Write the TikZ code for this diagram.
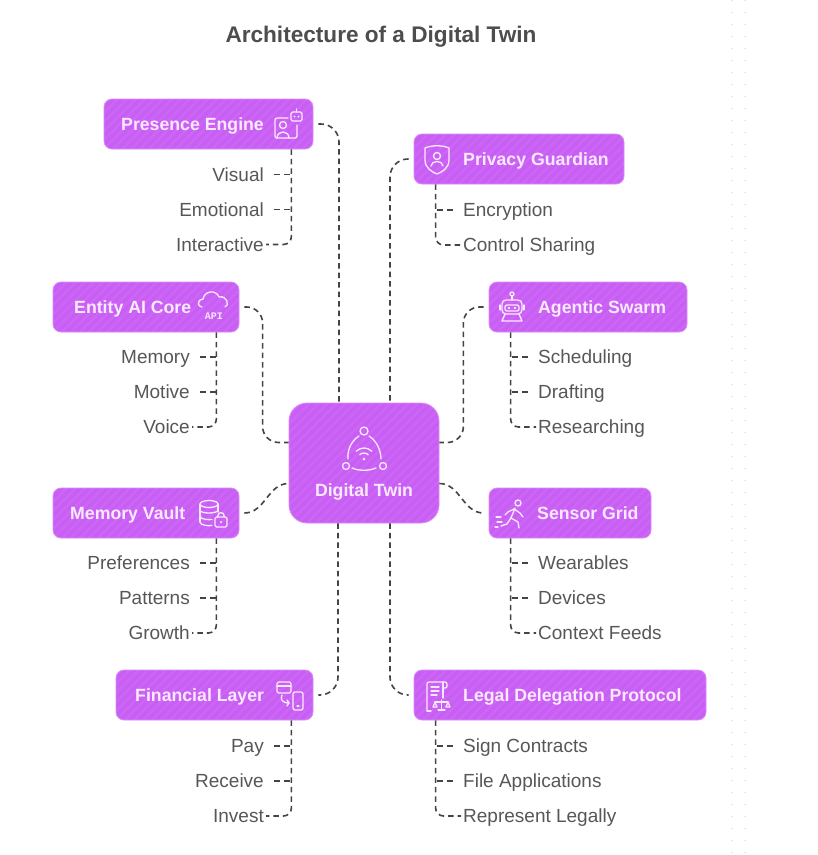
\documentclass[tikz,border=0pt]{standalone}
\usepackage{fontspec}
\setmainfont{Liberation Sans}
\newfontfamily\iconmono{Liberation Mono}
\usetikzlibrary{calc}
\definecolor{boxfill}{HTML}{C95EF5}
\definecolor{boxedge}{HTML}{D98BF8}
\definecolor{boxtext}{HTML}{FBEAFF}
\definecolor{linecol}{HTML}{444444}
\definecolor{itemcol}{HTML}{575757}
\definecolor{titlecol}{HTML}{4D4D4D}
\definecolor{gridcol}{HTML}{E6E6E6}
\tikzset{
  box/.style={draw=boxedge, line width=0.8pt, fill=boxfill, rounded corners=8pt, inner sep=0pt,
    path picture={\foreach \k in {-16,...,36}{\draw[white,opacity=0.05,line width=2.5pt] ([xshift={\k*9pt}]path picture bounding box.south west) -- ++(140pt,140pt);}}},
  lbl/.style={font=\bfseries\fontsize{17.7}{20}\selectfont, text=boxtext, inner sep=0pt, text height=12.7pt, text depth=0pt},
  itemL/.style={font=\fontsize{19}{22}\selectfont, text=itemcol, inner sep=0pt, text height=13.6pt, text depth=0pt, anchor=east},
  itemR/.style={font=\fontsize{19}{22}\selectfont, text=itemcol, inner sep=0pt, text height=13.6pt, text depth=0pt, anchor=west},
  conn/.style={draw=linecol, line width=1.6pt, dash pattern=on 5.5pt off 4pt},
  tick/.style={draw=linecol, line width=1.6pt, dash pattern=on 6pt off 4pt},
  icon/.style={color=boxtext, line width=1.3pt, line cap=round, line join=round},
}
\begin{document}
\begin{tikzpicture}[x=1pt, y=-1pt]
\useasboundingbox (0,0) rectangle (818,855);
\fill[white] (0,0) rectangle (818,855);
% faint dotted columns at right edge
\draw[gridcol, line width=1.3pt, dash pattern=on 1.3pt off 10.7pt] (732,0) -- (732,855);
\draw[gridcol, line width=1.3pt, dash pattern=on 1.3pt off 10.7pt] (745,0) -- (745,855);

% title
\node[font=\bfseries\fontsize{22.6}{26}\selectfont, text=titlecol, inner sep=0pt] (ttl) at (381,37) {Architecture of a Digital Twin};

% boxes
\node[box, minimum width=209pt, minimum height=50pt] (pe) at (208.5,124) {};
\node[box, minimum width=210pt, minimum height=50pt] (pg) at (519,159) {};
\node[box, minimum width=186pt, minimum height=50pt] (ea) at (146,307) {};
\node[box, minimum width=198pt, minimum height=50pt] (as) at (588,307) {};
\node[box, minimum width=150pt, minimum height=120pt, rounded corners=18pt] (dt) at (364,463) {};
\node[box, minimum width=186pt, minimum height=50pt] (mv) at (146,513) {};
\node[box, minimum width=162pt, minimum height=50pt] (sg) at (570,513) {};
\node[box, minimum width=197pt, minimum height=50pt] (fl) at (214.5,695) {};
\node[box, minimum width=292pt, minimum height=50pt] (ld) at (560,695) {};

% labels
\node[lbl, anchor=west] (pet) at (121,124) {Presence Engine};
\node[lbl, anchor=west] (pgt) at (463,159) {Privacy Guardian};
\node[lbl, anchor=west] (eat) at (74,307) {Entity AI Core};
\node[lbl, anchor=west] (ast) at (538,307) {Agentic Swarm};
\node[lbl] (dtt) at (364,490) {Digital Twin};
\node[lbl, anchor=west] (mvt) at (70,513) {Memory Vault};
\node[lbl, anchor=west] (sgt) at (537,513) {Sensor Grid};
\node[lbl, anchor=west] (flt) at (135,695) {Financial Layer};
\node[lbl, anchor=west] (ldt) at (463,695) {Legal Delegation Protocol};

% ---- icons ----
% Presence Engine
\begin{scope}[shift={(286,127)}, icon]
  \draw[rounded corners=2pt] (2,-9) -- (-11,-9) -- (-11,11) -- (11,11) -- (11,-2);
  \draw (-3,-2) circle[radius=3.5pt];
  \draw (-9,11) .. controls (-9,3) and (3,3) .. (3,11);
  \draw[rounded corners=1.5pt] (5,-15) rectangle (16,-6);
  \fill (8.5,-10.5) circle[radius=1pt] (12.5,-10.5) circle[radius=1pt];
  \draw (10.5,-15) -- (10.5,-18);
\end{scope}
% Privacy Guardian
\begin{scope}[shift={(437,159)}, icon]
  \draw (-12,-11) -- (-12,1) .. controls (-12,9) and (-5,13) .. (0,15) .. controls (5,13) and (12,9) .. (12,1) -- (12,-11) .. controls (5,-14) and (-5,-14) .. cycle;
  \draw (0,-3) circle[radius=3.5pt];
  \draw (-6,7) .. controls (-6,1) and (6,1) .. (6,7);
\end{scope}
% Entity AI Core
\begin{scope}[shift={(214,306)}, icon]
  \draw (-12,1) .. controls (-17,1) and (-17,-7) .. (-11,-7) .. controls (-10,-15) and (2,-17) .. (5,-9) .. controls (13,-11) and (16,0) .. (11,1);
\end{scope}
\node[font=\iconmono\bfseries\fontsize{10}{10}\selectfont, text=boxtext, inner sep=0pt] (eaapi) at (214,316) {API};
% Agentic Swarm
\begin{scope}[shift={(512,309)}, icon]
  \draw (0,-15) circle[radius=2pt];
  \draw (0,-13) -- (0,-9);
  \draw[rounded corners=4pt] (-10,-9) rectangle (10,5);
  \draw[rounded corners=2pt] (-7,-4) rectangle (7,2);
  \fill (-3,-1) circle[radius=1.3pt] (3,-1) circle[radius=1.3pt];
  \draw (-12,-4) -- (-12,1);
  \draw (12,-4) -- (12,1);
  \draw (-7,5) -- (-10,12) -- (10,12) -- (7,5);
\end{scope}
% Digital Twin
\begin{scope}[shift={(364,450)}, icon]
  \draw (0,-19) circle[radius=4pt];
  \draw (-18,16) circle[radius=3.5pt];
  \draw (19,16) circle[radius=3.5pt];
  \draw (-5,-14) .. controls (-13,-9) and (-17,1) .. (-16,9);
  \draw (5,-14) .. controls (13,-9) and (17,1) .. (17,9);
  \draw (-12,18) .. controls (-5,21) and (5,21) .. (12,18);
  \fill (0,9) circle[radius=1.5pt];
  \draw ($(0,9)+(45:6pt)$) arc[start angle=45, end angle=135, radius=6pt];
  \draw ($(0,9)+(45:11pt)$) arc[start angle=45, end angle=135, radius=11pt];
\end{scope}
% Memory Vault
\begin{scope}[shift={(211,512)}, icon]
  \draw (-2,-8) ellipse[x radius=9pt, y radius=3.5pt];
  \draw (-11,-8) -- (-11,10);
  \draw (7,-8) -- (7,0);
  \draw (-11,-2) .. controls (-11,2) and (7,2) .. (7,-2);
  \draw (-11,4) .. controls (-11,7.5) and (-2,8) .. (1,7.5);
  \draw (-11,10) .. controls (-11,13.5) and (-2,14) .. (1,13.5);
  \draw[rounded corners=1.5pt] (4,5) rectangle (16,15);
  \draw (6.5,5) .. controls (6.5,-1) and (13.5,-1) .. (13.5,5);
  \fill (10,10) circle[radius=1.2pt];
\end{scope}
% Sensor Grid
\begin{scope}[shift={(513,514)}, icon]
  \draw (5,-11) circle[radius=3pt];
  \draw (2,-6) -- (-2,4);
  \draw (1,-5) -- (7,-1) -- (10,3);
  \draw (1,-5) -- (-5,-2) -- (-8,1);
  \draw (-2,4) -- (5,8) -- (6,14);
  \draw (-2,4) -- (-6,10) -- (-12,12);
  \draw (-17,3) -- (-12,3);
  \draw (-16,8) -- (-11,8);
  \draw (-18,13) -- (-15,13);
\end{scope}
% Financial Layer
\begin{scope}[shift={(289,696)}, icon]
  \draw[rounded corners=1.5pt] (-12,-14) rectangle (2,-3);
  \draw (-12,-10) -- (2,-10);
  \draw[rounded corners=2pt] (4,-4) rectangle (14,14);
  \draw (8,10) -- (10,10);
  \draw (-7,-1) .. controls (-9,3) and (-7,7) .. (0,7);
  \draw (-2,4) -- (0,7) -- (-2,10);
\end{scope}
% Legal Delegation Protocol
\begin{scope}[shift={(437,696)}, icon]
  \draw[rounded corners=2pt] (-10,15) -- (-10,-14) -- (10,-14) -- (10,-8) -- (6,-8);
  \draw (6,-14) -- (6,2);
  \draw (-6,-9) -- (2,-9);
  \draw (-6,-5) -- (2,-5);
  \draw (-6,-1) -- (0,-1);
  \draw (-10,15) -- (-6,15);
  \draw (-2,6) -- (11,6);
  \draw (4.5,4) -- (4.5,14);
  \draw (1,14) -- (8,14);
  \draw (-2,6) -- (-4,11) -- (0,11) -- cycle;
  \draw (11,6) -- (9,11) -- (13,11) -- cycle;
\end{scope}

% ---- main connectors ----
\coordinate (dtL1) at ([yshift=20.5pt]dt.west);
\coordinate (dtL2) at ([yshift=-20.5pt]dt.west);
\coordinate (dtR1) at ([yshift=20.5pt]dt.east);
\coordinate (dtR2) at ([yshift=-20.5pt]dt.east);
\coordinate (dtT1) at ([xshift=-25pt]dt.north);
\coordinate (dtT2) at ([xshift=26pt]dt.north);
\coordinate (dtB1) at ([xshift=-26pt]dt.south);
\coordinate (dtB2) at ([xshift=26pt]dt.south);

\draw[conn, rounded corners=18pt] ([xshift=5pt]pe.east) -| (dtT1);
\draw[conn, rounded corners=18pt] ([xshift=-5pt]pg.west) -| (dtT2);
\draw[conn, rounded corners=16pt] ([xshift=5pt]ea.east) -| ($(dtL1)+(-26pt,0)$) -- (dtL1);
\draw[conn, rounded corners=16pt] ([xshift=-5pt]as.west) -| ($(dtR1)+(24pt,0)$) -- (dtR1);
\draw[conn] ([xshift=5pt]mv.east) to[out=0, in=180] (dtL2);
\draw[conn] (dtR2) to[out=0, in=180] ([xshift=-5pt]sg.west);
\draw[conn, rounded corners=18pt] (dtB1) |- ([xshift=5pt]fl.east);
\draw[conn, rounded corners=18pt] (dtB2) |- ([xshift=-5pt]ld.west);

% ---- items ----
% Presence Engine
\node[itemL] (pe1) at (264,174.5) {Visual};
\node[itemL] (pe2) at (264,209.5) {Emotional};
\node[itemL] (pe3) at (264,244.5) {Interactive};
\coordinate (peV) at ([xshift=-22pt]pe.south east);
\draw[tick] ([xshift=10pt]pe1.east) -- (peV |- pe1.east);
\draw[tick] ([xshift=10pt]pe2.east) -- (peV |- pe2.east);
\draw[conn, rounded corners=8pt] (peV) |- ([xshift=2pt]pe3.east);
% Entity AI Core
\node[itemL] (ea1) at (190,357) {Memory};
\node[itemL] (ea2) at (190,392) {Motive};
\node[itemL] (ea3) at (190,427) {Voice};
\coordinate (eaV) at ([xshift=-23pt]ea.south east);
\draw[tick] ([xshift=10pt]ea1.east) -- (eaV |- ea1.east);
\draw[tick] ([xshift=10pt]ea2.east) -- (eaV |- ea2.east);
\draw[conn, rounded corners=8pt] (eaV) |- ([xshift=2pt]ea3.east);
% Memory Vault
\node[itemL] (mv1) at (190,563) {Preferences};
\node[itemL] (mv2) at (190,598) {Patterns};
\node[itemL] (mv3) at (190,633) {Growth};
\coordinate (mvV) at ([xshift=-23pt]mv.south east);
\draw[tick] ([xshift=10pt]mv1.east) -- (mvV |- mv1.east);
\draw[tick] ([xshift=10pt]mv2.east) -- (mvV |- mv2.east);
\draw[conn, rounded corners=8pt] (mvV) |- ([xshift=2pt]mv3.east);
% Financial Layer
\node[itemL] (fl1) at (264,746) {Pay};
\node[itemL] (fl2) at (264,781) {Receive};
\node[itemL] (fl3) at (264,816) {Invest};
\coordinate (flV) at ([xshift=-22pt]fl.south east);
\draw[tick] ([xshift=10pt]fl1.east) -- (flV |- fl1.east);
\draw[tick] ([xshift=10pt]fl2.east) -- (flV |- fl2.east);
\draw[conn, rounded corners=8pt] (flV) |- ([xshift=2pt]fl3.east);
% Privacy Guardian
\node[itemR] (pg1) at (463,210) {Encryption};
\node[itemR] (pg2) at (463,245) {Control Sharing};
\coordinate (pgV) at ([xshift=22pt]pg.south west);
\draw[tick] ([xshift=-10pt]pg1.west) -- (pgV |- pg1.west);
\draw[conn, rounded corners=8pt] (pgV) |- ([xshift=-2pt]pg2.west);
% Agentic Swarm
\node[itemR] (as1) at (538,357) {Scheduling};
\node[itemR] (as2) at (538,392) {Drafting};
\node[itemR] (as3) at (538,427) {Researching};
\coordinate (asV) at ([xshift=22pt]as.south west);
\draw[tick] ([xshift=-10pt]as1.west) -- (asV |- as1.west);
\draw[tick] ([xshift=-10pt]as2.west) -- (asV |- as2.west);
\draw[conn, rounded corners=8pt] (asV) |- ([xshift=-2pt]as3.west);
% Sensor Grid
\node[itemR] (sg1) at (538,563) {Wearables};
\node[itemR] (sg2) at (538,598) {Devices};
\node[itemR] (sg3) at (538,633) {Context Feeds};
\coordinate (sgV) at ([xshift=22pt]sg.south west);
\draw[tick] ([xshift=-10pt]sg1.west) -- (sgV |- sg1.west);
\draw[tick] ([xshift=-10pt]sg2.west) -- (sgV |- sg2.west);
\draw[conn, rounded corners=8pt] (sgV) |- ([xshift=-2pt]sg3.west);
% Legal Delegation Protocol
\node[itemR] (ld1) at (463,746) {Sign Contracts};
\node[itemR] (ld2) at (463,781) {File Applications};
\node[itemR] (ld3) at (463,816) {Represent Legally};
\coordinate (ldV) at ([xshift=22pt]ld.south west);
\draw[tick] ([xshift=-10pt]ld1.west) -- (ldV |- ld1.west);
\draw[tick] ([xshift=-10pt]ld2.west) -- (ldV |- ld2.west);
\draw[conn, rounded corners=8pt] (ldV) |- ([xshift=-2pt]ld3.west);
\end{tikzpicture}
\end{document}
